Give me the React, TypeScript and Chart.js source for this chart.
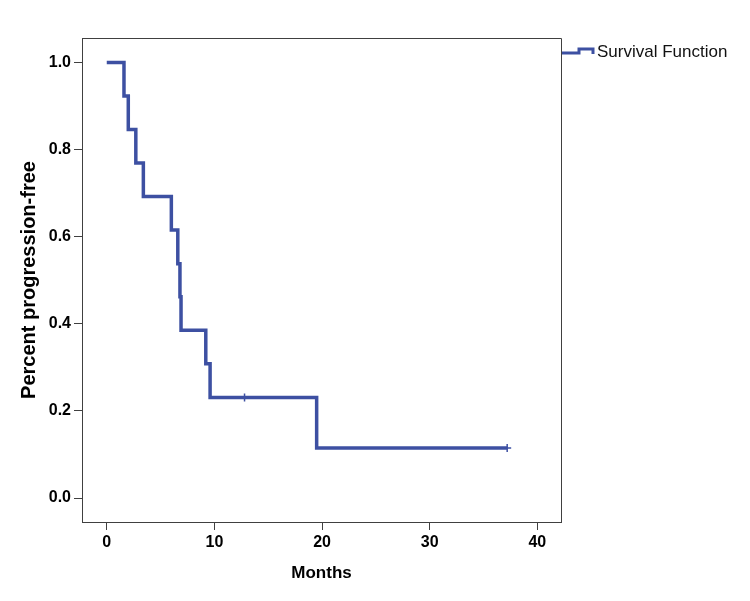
import React, { useEffect, useRef } from "react";
import { Chart, registerables } from "chart.js";

Chart.register(...registerables);

// Kaplan-Meier step points (time in months, survival proportion)
const eventTimes = [0, 1.6, 2.0, 2.7, 3.4, 6.0, 6.6, 6.8, 6.9, 9.2, 9.6, 19.5, 37.2];
const survival = [1.0, 0.923, 0.846, 0.769, 0.692, 0.615, 0.538, 0.462, 0.385, 0.308, 0.231, 0.115, 0.115];
// Censored observations
const censorTimes = [12.8, 37.2];
const censorValues = [0.231, 0.115];
// Axis ticks
const xTicks = [0, 10, 20, 30, 40];
const yTicks = [0.0, 0.2, 0.4, 0.6, 0.8, 1.0];

const LINE_COLOR = "#3D50A2";
const AXIS_COLOR = "#404040";
const FONT = "'Liberation Sans', Arial, sans-serif";

const framePlugin = {
  id: "frameAndLegend",
  afterDraw(chart: any) {
    const { ctx, chartArea } = chart;
    const { left, right, top, bottom } = chartArea;
    ctx.save();
    ctx.strokeStyle = AXIS_COLOR;
    ctx.lineWidth = 1;
    ctx.beginPath();
    ctx.moveTo(left, top + 0.5);
    ctx.lineTo(right + 0.5, top + 0.5);
    ctx.lineTo(right + 0.5, bottom);
    ctx.stroke();

    // legend icon (step shape)
    const x0 = right + 1;
    const yLow = top + 15;
    const yHigh = top + 11;
    ctx.strokeStyle = LINE_COLOR;
    ctx.lineWidth = 3;
    ctx.lineJoin = "miter";
    ctx.beginPath();
    ctx.moveTo(x0, yLow);
    ctx.lineTo(x0 + 17, yLow);
    ctx.lineTo(x0 + 17, yHigh);
    ctx.lineTo(x0 + 31, yHigh);
    ctx.lineTo(x0 + 31, yLow + 1);
    ctx.stroke();

    ctx.fillStyle = "#111";
    ctx.font = `17px ${FONT}`;
    ctx.textBaseline = "middle";
    ctx.textAlign = "left";
    ctx.fillText("Survival Function", x0 + 35, top + 14);
    ctx.restore();
  },
};

export default function App() {
  const canvasRef = useRef<HTMLCanvasElement | null>(null);

  useEffect(() => {
    if (!canvasRef.current) return;
    const chart = new Chart(canvasRef.current, {
      type: "line",
      data: {
        datasets: [
          {
            label: "Survival Function",
            data: eventTimes.map((t, i) => ({ x: t, y: survival[i] })),
            stepped: "before",
            borderColor: LINE_COLOR,
            borderWidth: 3.5,
            pointRadius: 0,
            fill: false,
            borderCapStyle: "butt",
            borderJoinStyle: "miter",
          },
          {
            label: "Censored",
            type: "scatter",
            data: censorTimes.map((t, i) => ({ x: t, y: censorValues[i] })),
            pointStyle: "cross",
            pointRadius: 4,
            borderColor: LINE_COLOR,
            backgroundColor: LINE_COLOR,
            borderWidth: 1.5,
          } as any,
        ],
      },
      options: {
        responsive: true,
        maintainAspectRatio: false,
        animation: false,
        layout: { padding: { top: 38, right: 189, left: 0, bottom: 0 } },
        plugins: {
          legend: { display: false },
          tooltip: { enabled: false },
        },
        scales: {
          x: {
            type: "linear",
            min: -2.3,
            max: 42.2,
            afterBuildTicks: (scale: any) => {
              scale.ticks = xTicks.map((v) => ({ value: v }));
            },
            afterFit: (scale: any) => {
              scale.height = 79;
            },
            grid: {
              display: true,
              drawOnChartArea: false,
              drawTicks: true,
              tickLength: 8,
              color: AXIS_COLOR,
            },
            border: { display: true, color: AXIS_COLOR, width: 1 },
            ticks: {
              color: "#000",
              padding: 3,
              maxRotation: 0,
              font: { family: FONT, size: 16, weight: "bold" },
              callback: (v: any) => String(v),
            },
            title: {
              display: true,
              text: "Months",
              color: "#000",
              font: { family: FONT, size: 17, weight: "bold" },
              padding: { top: 0, bottom: 17 },
            },
          },
          y: {
            type: "linear",
            min: -0.055,
            max: 1.056,
            afterBuildTicks: (scale: any) => {
              scale.ticks = yTicks.map((v) => ({ value: v }));
            },
            afterFit: (scale: any) => {
              scale.width = 82;
            },
            grid: {
              display: true,
              drawOnChartArea: false,
              drawTicks: true,
              tickLength: 8,
              color: AXIS_COLOR,
            },
            border: { display: true, color: AXIS_COLOR, width: 1 },
            ticks: {
              color: "#000",
              padding: 3,
              font: { family: FONT, size: 16, weight: "bold" },
              callback: (v: any) => Number(v).toFixed(1),
            },
            title: {
              display: true,
              text: "Percent progression-free",
              color: "#000",
              font: { family: FONT, size: 20, weight: "bold" },
              padding: { top: 17, bottom: 0 },
            },
          },
        },
      },
      plugins: [framePlugin],
    });
    return () => chart.destroy();
  }, []);

  return (
    <div style={{ position: "absolute", left: 0, top: 0, width: 750, height: 601, background: "#fff" }}>
      <canvas ref={canvasRef} />
    </div>
  );
}
